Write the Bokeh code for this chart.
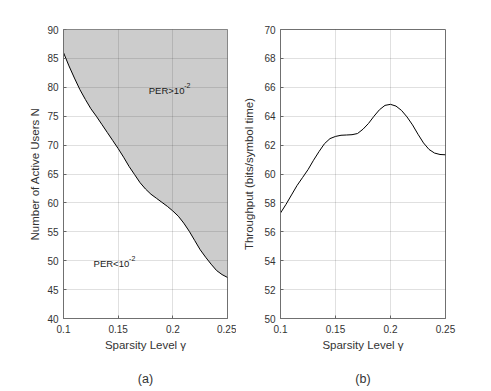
from bokeh.plotting import figure
from bokeh.layouts import row
from bokeh.models import Range1d, FixedTicker, Title
from bokeh.embed import file_html
from bokeh.resources import INLINE
from bokeh.core.properties import value

# ---------------- data ----------------
gamma = [0.100, 0.105, 0.110, 0.115, 0.120, 0.125, 0.130, 0.135, 0.140, 0.145,
         0.150, 0.155, 0.160, 0.165, 0.170, 0.175, 0.180, 0.185, 0.190, 0.195,
         0.200, 0.205, 0.210, 0.215, 0.220, 0.225, 0.230, 0.235, 0.240, 0.245,
         0.250]

# boundary of PER = 1e-2 region (panel a)
active_users = [86.0, 83.7, 81.6, 79.6, 77.9, 76.3, 75.0, 73.6, 72.2, 70.8,
                69.4, 67.9, 66.3, 64.9, 63.5, 62.4, 61.5, 60.8, 60.1, 59.4,
                58.6, 57.7, 56.5, 55.1, 53.5, 51.9, 50.6, 49.4, 48.3, 47.6,
                47.1]

# throughput (panel b)
throughput = [57.3, 57.9, 58.55, 59.2, 59.75, 60.3, 60.95, 61.55, 62.1, 62.45,
              62.6, 62.68, 62.7, 62.72, 62.8, 63.1, 63.5, 64.0, 64.45, 64.75,
              64.82, 64.7, 64.4, 63.95, 63.4, 62.75, 62.15, 61.7, 61.45, 61.35,
              61.33]

users_max = 90
x_ticks = [0.1, 0.15, 0.2, 0.25]
x_tick_labels = ["0.1", "0.15", "0.2", "0.25"]
users_ticks = [40, 45, 50, 55, 60, 65, 70, 75, 80, 85, 90]
thr_ticks = [50, 52, 54, 56, 58, 60, 62, 64, 66, 68, 70]

region_labels = ["PER>10", "PER<10"]
region_sup = ["-2", "-2"]
region_x = [0.178, 0.1275]
region_y = [79.4, 49.6]

FONT = "Liberation Sans"
TXT = "#333333"
AX = "#707070"


def style(p, yticks, ylabel, panel):
    p.xaxis.ticker = FixedTicker(ticks=x_ticks)
    p.xaxis.major_label_overrides = {t: l for t, l in zip(x_ticks, x_tick_labels)}
    p.yaxis.ticker = FixedTicker(ticks=yticks)
    p.xaxis.axis_label = "Sparsity Level γ"
    p.yaxis.axis_label = ylabel
    for ax in (p.xaxis[0], p.yaxis[0]):
        ax.axis_line_color = AX
        ax.major_tick_line_color = AX
        ax.major_tick_in = 3
        ax.major_tick_out = 0
        ax.minor_tick_line_color = None
        ax.major_label_text_font = FONT
        ax.major_label_text_font_size = "10px"
        ax.major_label_text_color = TXT
        ax.axis_label_text_font = FONT
        ax.axis_label_text_font_size = "11.5px"
        ax.axis_label_text_font_style = "normal"
        ax.axis_label_text_color = TXT
    p.xaxis.major_label_standoff = 6
    p.xaxis.axis_label_standoff = 3
    p.yaxis.major_label_standoff = 5
    p.xgrid.ticker = FixedTicker(ticks=x_ticks)
    p.ygrid.ticker = FixedTicker(ticks=yticks)
    p.grid.grid_line_color = "#262626"
    p.grid.grid_line_alpha = 0.14
    p.grid.level = "annotation"
    p.outline_line_color = AX
    p.outline_line_alpha = 1
    p.background_fill_color = "white"
    p.border_fill_color = "white"
    # empty spacer title, then the panel caption further below
    p.add_layout(Title(text=" ", text_font_size="12px", standoff=0), "below")
    p.add_layout(Title(text=panel, align="center", text_font=FONT,
                       text_font_size="12.5px", text_font_style="normal",
                       text_color=TXT, standoff=0), "below")


# ---------------- panel (a) ----------------
pa = figure(width=236, height=390, x_range=Range1d(0.1, 0.25), y_range=Range1d(40, 90),
            output_backend="svg", toolbar_location=None,
            min_border_left=63, min_border_right=9, min_border_top=29,
            min_border_bottom=72)
pa.varea(x=gamma, y1=active_users, y2=[users_max] * len(gamma), fill_color="#cccccc")
pa.line(gamma, active_users, line_color="black", line_width=1)
pa.text(x=region_x, y=region_y, text=region_labels, text_font=value(FONT),
        text_font_size="9.5px", text_color="#1a1a1a", text_baseline="middle",
        text_align="left")
pa.text(x=region_x, y=region_y, text=region_sup, text_font=value(FONT),
        text_font_size="7px", text_color="#1a1a1a", text_baseline="middle",
        text_align="left", x_offset=35.5, y_offset=-5)
style(pa, users_ticks, "Number of Active Users N", "(a)")
pa.yaxis.axis_label_standoff = 3

# ---------------- panel (b) ----------------
pb = figure(width=255, height=390, x_range=Range1d(0.1, 0.25), y_range=Range1d(50, 70),
            output_backend="svg", toolbar_location=None,
            min_border_left=44, min_border_right=46, min_border_top=29,
            min_border_bottom=72)
pb.line(gamma, throughput, line_color="black", line_width=1)
style(pb, thr_ticks, "Throughput (bits/symbol time)", "(b)")
pb.yaxis.axis_label_standoff = 6

layout = row(pa, pb)
open("out.html", "w").write(file_html(layout, INLINE))
